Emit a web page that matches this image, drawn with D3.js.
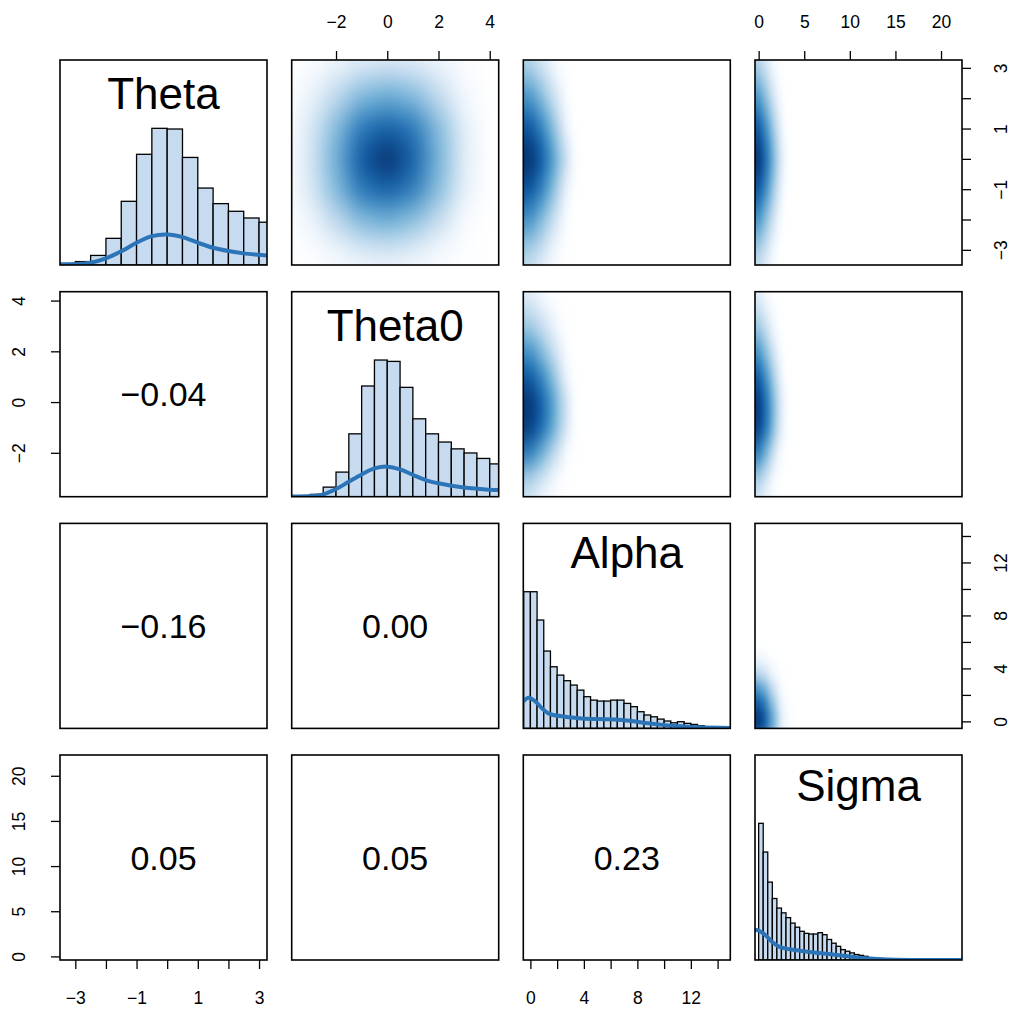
<!DOCTYPE html>
<html><head><meta charset="utf-8">
<script src="https://cdn.jsdelivr.net/npm/d3@7"></script>
<style>
body{margin:0;background:#fff}
text{font-family:"Liberation Sans",Arial,Helvetica,sans-serif;fill:#000}
</style>
</head><body>
<svg id="c" width="1013" height="1016"></svg>
<script>
// ---------------- DATA ----------------
const varNames = ["Theta", "Theta0", "Alpha", "Sigma"];
const domTheta = [-3.5, 3.26];
const domTheta0 = [-3.73, 4.35];
const domAlpha = [-0.53, 14.95];
const domSigma = [-0.4, 22.3];

// axis ticks / labels
const thetaTicks = [-3, -2, -1, 0, 1, 2, 3];
const thetaTickLabels = ["\u22123", "", "\u22121", "", "1", "", "3"];
const theta0Ticks = [-2, 0, 2, 4];
const theta0TickLabels = ["\u22122", "0", "2", "4"];
const alphaTicks = [0, 2, 4, 6, 8, 10, 12, 14];
const alphaTickLabels = ["0", "", "4", "", "8", "", "12", ""];
const sigmaTicks = [0, 5, 10, 15, 20];
const sigmaTickLabels = ["0", "5", "10", "15", "20"];

// diagonal histograms (heights relative to the tallest bar)
const thetaEdges = [-3.5,-3,-2.5,-2,-1.5,-1,-0.5,0,0.5,1,1.5,2,2.5,3,3.5];
const thetaHist = [0.01,0.025,0.07,0.195,0.466,0.81,1.0,0.995,0.787,0.563,0.449,0.393,0.344,0.313];
const thetaDensX = [-3.5,-3,-2.5,-2,-1.5,-1,-0.5,0,0.5,1,1.5,2,2.5,3,3.26];
const thetaDensY = [0.005,0.007,0.017,0.049,0.10,0.163,0.211,0.223,0.204,0.163,0.126,0.102,0.085,0.075,0.07];

const theta0Edges = [-3.5,-3,-2.5,-2,-1.5,-1,-0.5,0,0.5,1,1.5,2,2.5,3,3.5,4,4.5];
const theta0Hist = [0.005,0.017,0.07,0.18,0.46,0.81,1.0,0.99,0.80,0.57,0.46,0.40,0.35,0.32,0.28,0.24];
const theta0DensX = [-3.73,-3,-2.5,-2,-1.5,-1,-0.5,0,0.5,1,1.5,2,2.5,3,3.5,4,4.35];
const theta0DensY = [0.002,0.005,0.017,0.056,0.11,0.163,0.207,0.22,0.2,0.16,0.122,0.098,0.08,0.068,0.059,0.051,0.049];

const alphaEdges = [-0.5,0,0.5,1,1.5,2,2.5,3,3.5,4,4.5,5,5.5,6,6.5,7,7.5,8,8.5,9,9.5,10,10.5,11,11.5,12,12.5,13,13.5,14,14.5,15];
const alphaHist = [1.0,1.0,0.793,0.566,0.451,0.39,0.349,0.317,0.28,0.232,0.207,0.2,0.2,0.207,0.207,0.183,0.159,0.122,0.098,0.085,0.068,0.054,0.041,0.049,0.037,0.029,0.02,0.012,0.007,0.005,0.002];
const alphaDensX = [-0.53,-0.16,0.34,0.84,1.34,2.59,3.84,5.08,6.33,7.58,8.82,10.07,11.32,12.57,14.95];
const alphaDensY = [0.195,0.224,0.2,0.15,0.11,0.085,0.073,0.068,0.066,0.054,0.037,0.024,0.015,0.008,0.003];

const sigmaEdges = [0,0.5,1,1.5,2,2.5,3,3.5,4,4.5,5,5.5,6,6.5,7,7.5,8,8.5,9,9.5,10,10.5,11,11.5,12,12.5,13,13.5,14,14.5];
const sigmaHist = [1.0,0.79,0.57,0.45,0.38,0.345,0.31,0.27,0.24,0.21,0.195,0.19,0.19,0.2,0.185,0.15,0.123,0.1,0.076,0.064,0.052,0.04,0.034,0.027,0.018,0.01,0.006,0.003,0.002];
const sigmaDensX = [-0.4,-0.21,0.7,1.43,2.17,3.26,4.36,5.83,7.65,9.48,11.3,13.1,15,22.3];
const sigmaDensY = [0.21,0.22,0.185,0.135,0.1,0.08,0.07,0.057,0.044,0.03,0.015,0.007,0.002,0.0];

// correlations (lower panels)
const corrRows = [1, 2, 2, 3, 3, 3];
const corrCols = [0, 0, 1, 0, 1, 2];
const corrValues = [-0.04, -0.16, 0.00, 0.05, 0.05, 0.23];

// smoothed density grids (upper panels): cell centres and intensity 0..1
const dens01X = [-3,-2,-1,0,1,2,3,4];           // Theta0
const dens01Y = [4,3,2,1,0,-1,-2,-3,-4];        // Theta
const dens01Z = [
 [0.02,0.05,0.08,0.09,0.08,0.05,0.02,0],
 [0.08,0.18,0.27,0.31,0.27,0.18,0.07,0],
 [0.17,0.35,0.52,0.58,0.52,0.35,0.13,0],
 [0.23,0.50,0.76,0.84,0.76,0.50,0.19,0],
 [0.25,0.55,0.86,1.00,0.84,0.53,0.20,0],
 [0.23,0.50,0.76,0.84,0.74,0.49,0.18,0],
 [0.15,0.35,0.51,0.56,0.49,0.33,0.10,0],
 [0.06,0.15,0.24,0.27,0.22,0.13,0.04,0],
 [0.02,0.04,0.06,0.07,0.06,0.04,0.01,0]];

const dens02X = [-0.75,-0.25,0.25,0.75,1.25,1.75,2.25,2.75,3.25,3.75]; // Alpha
const dens02Y = [4,3,2,1,0,-1,-2,-3,-4];                                 // Theta
const dens02Z = [
 [0.25,0.25,0.22,0.17,0.11,0.06,0.02,0,0,0],
 [0.42,0.42,0.38,0.31,0.23,0.15,0.08,0.02,0,0],
 [0.66,0.66,0.61,0.52,0.42,0.31,0.19,0.07,0.01,0],
 [0.88,0.88,0.83,0.74,0.62,0.48,0.33,0.16,0.04,0],
 [1.00,1.00,0.96,0.87,0.75,0.61,0.46,0.30,0.13,0.02],
 [0.88,0.88,0.83,0.74,0.62,0.48,0.33,0.16,0.04,0],
 [0.66,0.66,0.61,0.52,0.42,0.31,0.19,0.07,0.01,0],
 [0.42,0.42,0.38,0.31,0.23,0.15,0.08,0.02,0,0],
 [0.25,0.25,0.22,0.17,0.11,0.06,0.02,0,0,0]];

const dens03X = [-0.75,-0.25,0.25,0.75,1.25,1.75,2.25,2.75,3.25,3.75]; // Sigma
const dens03Y = [4,3,2,1,0,-1,-2,-3,-4];                                 // Theta
const dens03Z = [
 [0.25,0.25,0.21,0.15,0.09,0.04,0.01,0,0,0],
 [0.42,0.42,0.37,0.29,0.20,0.12,0.05,0.01,0,0],
 [0.66,0.66,0.60,0.49,0.37,0.25,0.13,0.04,0,0],
 [0.88,0.88,0.82,0.70,0.55,0.40,0.25,0.11,0.03,0],
 [1.00,1.00,0.94,0.82,0.67,0.50,0.33,0.17,0.06,0.01],
 [0.88,0.88,0.82,0.70,0.55,0.40,0.25,0.11,0.03,0],
 [0.66,0.66,0.60,0.49,0.37,0.25,0.13,0.04,0,0],
 [0.42,0.42,0.37,0.29,0.20,0.12,0.05,0.01,0,0],
 [0.25,0.25,0.21,0.15,0.09,0.04,0.01,0,0,0]];

const dens12X = [-0.75,-0.25,0.25,0.75,1.25,1.75,2.25,2.75,3.25,3.75]; // Alpha
const dens12Y = [5,4,3,2,1,0,-1,-2,-3,-4];                               // Theta0
const dens12Z = [
 [0.08,0.08,0.07,0.05,0.03,0.01,0,0,0,0],
 [0.25,0.25,0.22,0.17,0.11,0.06,0.02,0,0,0],
 [0.44,0.44,0.40,0.33,0.25,0.17,0.09,0.02,0,0],
 [0.66,0.66,0.61,0.52,0.42,0.31,0.19,0.07,0.01,0],
 [0.86,0.86,0.81,0.72,0.60,0.47,0.32,0.15,0.04,0],
 [0.98,0.98,0.94,0.85,0.73,0.59,0.44,0.27,0.11,0.01],
 [0.96,0.96,0.91,0.82,0.70,0.56,0.41,0.24,0.09,0.01],
 [0.74,0.74,0.68,0.58,0.47,0.35,0.22,0.09,0.02,0],
 [0.42,0.42,0.38,0.30,0.22,0.14,0.07,0.02,0,0],
 [0.22,0.22,0.19,0.14,0.09,0.05,0.02,0,0,0]];

const dens13X = [-0.75,-0.25,0.25,0.75,1.25,1.75,2.25,2.75,3.25,3.75]; // Sigma
const dens13Y = [5,4,3,2,1,0,-1,-2,-3,-4];                               // Theta0
const dens13Z = [
 [0.08,0.08,0.07,0.05,0.02,0.01,0,0,0,0],
 [0.25,0.25,0.21,0.15,0.09,0.04,0.01,0,0,0],
 [0.44,0.44,0.39,0.30,0.21,0.12,0.05,0.01,0,0],
 [0.66,0.66,0.60,0.49,0.37,0.25,0.13,0.04,0,0],
 [0.86,0.86,0.80,0.68,0.53,0.38,0.23,0.10,0.02,0],
 [0.98,0.98,0.92,0.80,0.65,0.48,0.31,0.16,0.05,0.01],
 [0.96,0.96,0.90,0.78,0.63,0.46,0.29,0.14,0.04,0],
 [0.74,0.74,0.67,0.55,0.41,0.27,0.14,0.05,0.01,0],
 [0.42,0.42,0.37,0.28,0.19,0.11,0.04,0.01,0,0],
 [0.22,0.22,0.18,0.13,0.07,0.03,0.01,0,0,0]];

const dens23X = [-0.5,0.5,1.5,2.5,3.5];                 // Sigma
const dens23Y = [5.5,4.5,3.5,2.5,1.5,0.5,-0.5];         // Alpha
const dens23Z = [
 [0.04,0.03,0.01,0,0],
 [0.20,0.16,0.06,0.01,0],
 [0.42,0.34,0.17,0.03,0],
 [0.67,0.57,0.32,0.08,0],
 [0.86,0.76,0.47,0.14,0.01],
 [1.00,0.89,0.57,0.18,0.03],
 [1.00,0.89,0.57,0.18,0.03]];

const blues9 = ["#F7FBFF","#DEEBF7","#C6DBEF","#9ECAE1","#6BAED6","#4292C6","#2171B5","#08519C","#08306B"];

// ---------------- LAYOUT ----------------
const colX = [60, 291.7, 523.3, 755];
const rowY = [60, 291.7, 523.4, 755];
const PW = 207, PH = 205;
const titleOffsets = [49, 49, 45, 46];
const FONT_AXIS = 17.5, FONT_TITLE = 44, FONT_CORR = 34;
const LINE_BLUE = "#2b74b8", BAR_FILL = "#C6DBEF";

const domains = [domTheta, domTheta0, domAlpha, domSigma];
const tickSets = [thetaTicks, theta0Ticks, alphaTicks, sigmaTicks];
const tickLabelSets = [thetaTickLabels, theta0TickLabels, alphaTickLabels, sigmaTickLabels];
const histEdges = [thetaEdges, theta0Edges, alphaEdges, sigmaEdges];
const histVals = [thetaHist, theta0Hist, alphaHist, sigmaHist];
const densXs = [thetaDensX, theta0DensX, alphaDensX, sigmaDensX];
const densYs = [thetaDensY, theta0DensY, alphaDensY, sigmaDensY];

const xS = domains.map((d, j) => d3.scaleLinear().domain(d).range([colX[j], colX[j] + PW]));
const yS = domains.map((d, i) => d3.scaleLinear().domain(d).range([rowY[i] + PH, rowY[i]]));

const svg = d3.select("#c");
svg.append("rect").attr("width", 1013).attr("height", 1016).attr("fill", "#fff");
const defs = svg.append("defs");

for (let i = 0; i < 4; i++) for (let j = 0; j < 4; j++) {
  defs.append("clipPath").attr("id", `clip${i}${j}`)
    .append("rect").attr("x", colX[j]).attr("y", rowY[i]).attr("width", PW).attr("height", PH);
}

// colour ramp as in smoothScatter: white -> blues9
const ramp = ["#FFFFFF"].concat(blues9);
const color = d3.scaleLinear().domain(ramp.map((c, k) => k / (ramp.length - 1))).range(ramp)
  .interpolate(d3.interpolateRgb).clamp(true);

// ---------------- UPPER: smoothed densities ----------------
const densPanels = [
  [0, 1, dens01X, dens01Y, dens01Z],
  [0, 2, dens02X, dens02Y, dens02Z],
  [0, 3, dens03X, dens03Y, dens03Z],
  [1, 2, dens12X, dens12Y, dens12Z],
  [1, 3, dens13X, dens13Y, dens13Z],
  [2, 3, dens23X, dens23Y, dens23Z]
];
densPanels.forEach(([r, c, gx, gy, gz]) => {
  const xs = xS[c], ys = yS[r];
  const dx = Math.abs(gx[1] - gx[0]), dy = Math.abs(gy[1] - gy[0]);
  const cw = Math.abs(xs(dx) - xs(0)), ch = Math.abs(ys(0) - ys(dy));
  const fid = `blur${r}${c}`;
  const f = defs.append("filter").attr("id", fid)
    .attr("x", "-30%").attr("y", "-30%").attr("width", "160%").attr("height", "160%")
    .attr("color-interpolation-filters", "sRGB");
  f.append("feGaussianBlur").attr("stdDeviation", `${(cw * 0.42).toFixed(2)} ${(ch * 0.42).toFixed(2)}`);
  const outer = svg.append("g").attr("clip-path", `url(#clip${r}${c})`);
  const inner = outer.append("g").attr("filter", `url(#${fid})`);
  const cells = [];
  gy.forEach((yv, a) => gx.forEach((xv, b) => cells.push({ x: xv, y: yv, v: gz[a][b] })));
  inner.selectAll("rect").data(cells).join("rect")
    .attr("x", d => xs(d.x - dx / 2))
    .attr("y", d => ys(d.y + dy / 2))
    .attr("width", cw + 0.6)
    .attr("height", ch + 0.6)
    .attr("fill", d => color(d.v));
});

// ---------------- DIAGONAL: histograms ----------------
for (let k = 0; k < 4; k++) {
  const xs = xS[k];
  const yh = d3.scaleLinear().domain([0, 1.5]).range([rowY[k] + PH, rowY[k]]);
  const g = svg.append("g").attr("clip-path", `url(#clip${k}${k})`);
  const e = histEdges[k];
  const bars = histVals[k].map((v, b) => ({ x0: e[b], x1: e[b + 1], v }));
  g.selectAll("rect").data(bars).join("rect")
    .attr("x", d => xs(d.x0)).attr("width", d => xs(d.x1) - xs(d.x0))
    .attr("y", d => yh(d.v)).attr("height", d => yh(0) - yh(d.v))
    .attr("fill", BAR_FILL).attr("stroke", "#000").attr("stroke-width", 1.3);
  const line = d3.line().x(d => xs(d[0])).y(d => yh(d[1])).curve(d3.curveCatmullRom.alpha(0.5));
  g.append("path").datum(densXs[k].map((x, q) => [x, densYs[k][q]]))
    .attr("d", line).attr("fill", "none").attr("stroke", LINE_BLUE).attr("stroke-width", 4)
    .attr("stroke-linejoin", "round");
  svg.append("text").attr("x", colX[k] + PW / 2).attr("y", rowY[k] + titleOffsets[k])
    .attr("text-anchor", "middle").attr("font-size", FONT_TITLE).text(varNames[k]);
}

// ---------------- LOWER: correlations ----------------
const fmt = d3.format(".2f");
corrValues.forEach((v, q) => {
  const r = corrRows[q], c = corrCols[q];
  svg.append("text").attr("x", colX[c] + PW / 2).attr("y", rowY[r] + PH / 2)
    .attr("dy", "0.36em").attr("text-anchor", "middle").attr("font-size", FONT_CORR)
    .text(fmt(v).replace("-", "\u2212"));
});

// ---------------- BOXES ----------------
for (let i = 0; i < 4; i++) for (let j = 0; j < 4; j++) {
  svg.append("rect").attr("x", colX[j]).attr("y", rowY[i]).attr("width", PW).attr("height", PH)
    .attr("fill", "none").attr("stroke", "#000").attr("stroke-width", 1.6);
}

// ---------------- AXES ----------------
function styleAxis(g) {
  g.select(".domain").remove();
  g.selectAll(".tick line").attr("stroke", "#000").attr("stroke-width", 1.3);
  g.selectAll(".tick text").attr("font-size", FONT_AXIS).attr("fill", "#000")
    .attr("font-family", "'Liberation Sans',Arial,sans-serif");
}
function makeAxis(kind, v) {
  let ax;
  if (kind === "bottom") ax = d3.axisBottom(xS[v]);
  if (kind === "top") ax = d3.axisTop(xS[v]);
  if (kind === "left") ax = d3.axisLeft(yS[v]);
  if (kind === "right") ax = d3.axisRight(yS[v]);
  return ax.tickValues(tickSets[v]).tickFormat((d, q) => tickLabelSets[v][q])
    .tickSize(9).tickSizeOuter(0).tickPadding(23);
}
[0, 2].forEach(v => {
  const g = svg.append("g").attr("transform", `translate(0,${rowY[3] + PH})`).call(makeAxis("bottom", v));
  styleAxis(g);
});
[1, 3].forEach(v => {
  const g = svg.append("g").attr("transform", `translate(0,${rowY[0]})`).call(makeAxis("top", v));
  styleAxis(g);
});
[1, 3].forEach(v => {
  const g = svg.append("g").attr("transform", `translate(${colX[0]},0)`).call(makeAxis("left", v));
  styleAxis(g);
  g.selectAll(".tick text").attr("x", null).attr("y", null).attr("dy", "0.35em")
    .attr("text-anchor", "middle").attr("transform", "translate(-41,0) rotate(-90)");
});
[0, 2].forEach(v => {
  const g = svg.append("g").attr("transform", `translate(${colX[3] + PW},0)`).call(makeAxis("right", v));
  styleAxis(g);
  g.selectAll(".tick text").attr("x", null).attr("y", null).attr("dy", "0.35em")
    .attr("text-anchor", "middle").attr("transform", "translate(39,0) rotate(-90)");
});
</script>
</body></html>
